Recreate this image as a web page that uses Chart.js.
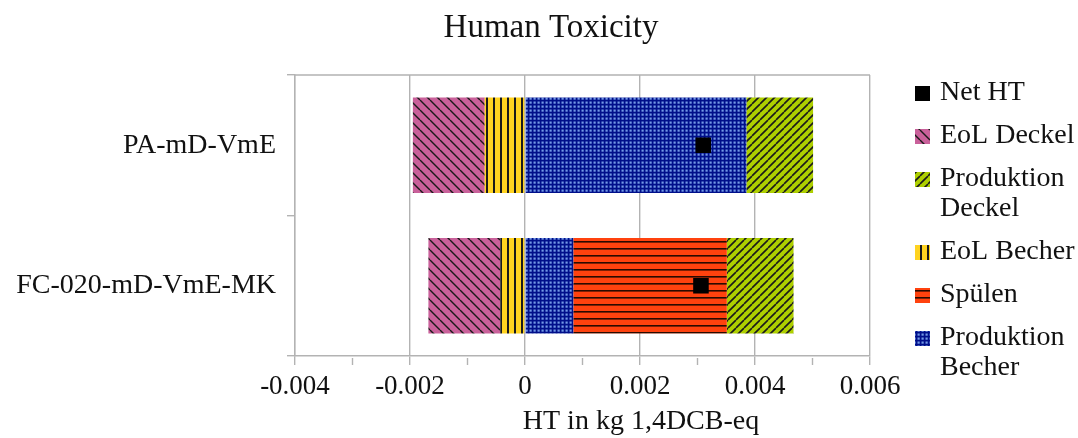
<!DOCTYPE html>
<html>
<head>
<meta charset="utf-8">
<title>Human Toxicity</title>
<script src="https://cdn.jsdelivr.net/npm/chart.js@4.4.0/dist/chart.umd.min.js"></script>
<style>
  html, body { margin: 0; padding: 0; background: #fff; }
  #myChart { display: block; }
</style>
</head>
<body>
<canvas id="myChart" width="1078" height="438"></canvas>
<script>
// categories and values (kg 1,4DCB-eq)
var categories = ['PA-mD-VmE', 'FC-020-mD-VmE-MK'];
var eolBecher = [-0.0007, -0.00043];
var produktionBecher = [0.00385, 0.00084];
var spuelen = [null, 0.00267];
var produktionDeckel = [0.00116, 0.00116];
var eolDeckel = [-0.00125, -0.00125];
var netHT = [0.0031, 0.00306];

var xTicks = [-0.004, -0.002, 0, 0.002, 0.004, 0.006];
var xTickLabels = ['-0.004', '-0.002', '0', '0.002', '0.004', '0.006'];

var legendOrder = ['Net HT', 'EoL Deckel', 'Produktion\nDeckel', 'EoL Becher', 'Spülen', 'Produktion\nBecher'];

var FONT = 'Liberation Serif, Times New Roman, serif';
var TEXT = '#111';
var GRID = '#b3b3b3';

var ctx = document.getElementById('myChart').getContext('2d');

function isMajor(v) {
  return xTicks.some(function (t) { return Math.abs(t - v) < 1e-9; });
}

// hatch fills
function makePattern(size, bg, draw) {
  var c = document.createElement('canvas');
  c.width = size; c.height = size;
  var g = c.getContext('2d');
  g.fillStyle = bg;
  g.fillRect(0, 0, size, size);
  draw(g, size);
  return ctx.createPattern(c, 'repeat');
}

var pinkHatch = makePattern(10, '#c9609a', function (g, s) {
  g.strokeStyle = '#1a1a1a'; g.lineWidth = 1.4;
  g.beginPath();
  for (var k = -1; k <= 1; k++) { g.moveTo(k * s, 0); g.lineTo(k * s + s, s); }
  g.stroke();
});
var greenHatch = makePattern(8, '#aecf00', function (g, s) {
  g.strokeStyle = '#1a1a1a'; g.lineWidth = 1.6;
  g.beginPath();
  for (var k = -1; k <= 1; k++) { g.moveTo(k * s, s); g.lineTo(k * s + s, 0); }
  g.stroke();
});
var yellowLines = makePattern(7, '#ffd320', function (g, s) {
  g.fillStyle = '#1a1a1a';
  g.fillRect(3, 0, 2, s);
});
var redLines = makePattern(7, '#ff420e', function (g, s) {
  g.fillStyle = '#2a0a00';
  g.fillRect(0, 3, s, 1.6);
});
var blueGrid = makePattern(4, '#000f8a', function (g, s) {
  g.fillStyle = '#7399e6';
  g.fillRect(1.5, 1.5, 2.2, 2.2);
});

var chart = new Chart(ctx, {
  type: 'bar',
  data: {
    labels: categories,
    datasets: [
      {
        type: 'line', label: 'Net HT', data: netHT, indexAxis: 'y',
        showLine: false, pointStyle: 'rect', pointRadius: 11,
        pointBackgroundColor: '#000', pointBorderWidth: 0, backgroundColor: '#000'
      },
      // nearest to zero first
      { label: 'EoL Becher', data: eolBecher, backgroundColor: yellowLines },
      { label: 'Produktion\nBecher', data: produktionBecher, backgroundColor: blueGrid },
      { label: 'Spülen', data: spuelen, backgroundColor: redLines },
      { label: 'Produktion\nDeckel', data: produktionDeckel, backgroundColor: greenHatch },
      { label: 'EoL Deckel', data: eolDeckel, backgroundColor: pinkHatch }
    ]
  },
  options: {
    indexAxis: 'y',
    responsive: false,
    animation: false,
    datasets: { bar: { categoryPercentage: 1, barPercentage: 0.68, borderWidth: 0 } },
    layout: { padding: { top: 75, right: 208, left: 0, bottom: 0 } },
    plugins: { legend: { display: false }, title: { display: false }, tooltip: { enabled: false } },
    scales: {
      x: {
        stacked: true, min: -0.004, max: 0.006,
        ticks: {
          stepSize: 0.001, autoSkip: false, maxRotation: 0, padding: 6,
          color: TEXT, font: { family: FONT, size: 27 },
          callback: function (v) {
            var i = xTicks.findIndex(function (t) { return Math.abs(t - v) < 1e-9; });
            return i < 0 ? '' : xTickLabels[i];
          }
        },
        grid: {
          color: function (c) { return isMajor(c.tick.value) ? GRID : 'rgba(0,0,0,0)'; },
          tickColor: function (c) { return isMajor(c.tick.value) ? GRID : 'rgba(0,0,0,0)'; },
          tickLength: 9, lineWidth: 1.4
        },
        border: { color: GRID, width: 1.4 },
        afterFit: function (s) { s.height = 82; }
      },
      y: {
        stacked: true, offset: true,
        grid: { drawOnChartArea: false, offset: true, tickLength: 8, color: GRID, lineWidth: 1.4 },
        border: { color: GRID, width: 1.4 },
        ticks: { color: TEXT, font: { family: FONT, size: 28 }, padding: 11 },
        afterFit: function (s) { s.width = 295; }
      }
    }
  },
  plugins: [{
    id: 'frame',
    beforeDatasetsDraw: function (ch) {
      // top edge of the plot frame and the short minor ticks under the axis
      var a = ch.chartArea, c = ch.ctx, xs = ch.scales.x;
      c.save();
      c.strokeStyle = GRID;
      c.lineWidth = 1.4;
      c.beginPath();
      c.moveTo(a.left, a.top);
      c.lineTo(a.right, a.top);
      xs.ticks.forEach(function (t) {
        if (isMajor(t.value)) return;
        var x = xs.getPixelForValue(t.value);
        c.moveTo(x, a.bottom + 2);
        c.lineTo(x, a.bottom + 9);
      });
      c.stroke();
      c.restore();
    },
    afterDraw: function (ch) {
      var c = ch.ctx;
      c.save();
      c.fillStyle = TEXT;
      c.textBaseline = 'middle';
      c.textAlign = 'center';
      c.font = '33px ' + FONT;
      c.fillText('Human Toxicity', 551, 28);
      c.font = '28px ' + FONT;
      c.fillText('HT in kg 1,4DCB-eq', 641, 422);

      // legend at the right
      c.textAlign = 'left';
      var y = 93;
      legendOrder.forEach(function (name) {
        var ds = ch.data.datasets.find(function (d) { return d.label === name; });
        c.fillStyle = ds.backgroundColor;
        c.fillRect(915, y - 7, 15, 15);
        c.fillStyle = TEXT;
        var lines = name.split('\n');
        lines.forEach(function (ln, i) { c.fillText(ln, 940, y + i * 30); });
        y += lines.length * 30 + 13;
      });
      c.restore();
    }
  }]
});
</script>
</body>
</html>
